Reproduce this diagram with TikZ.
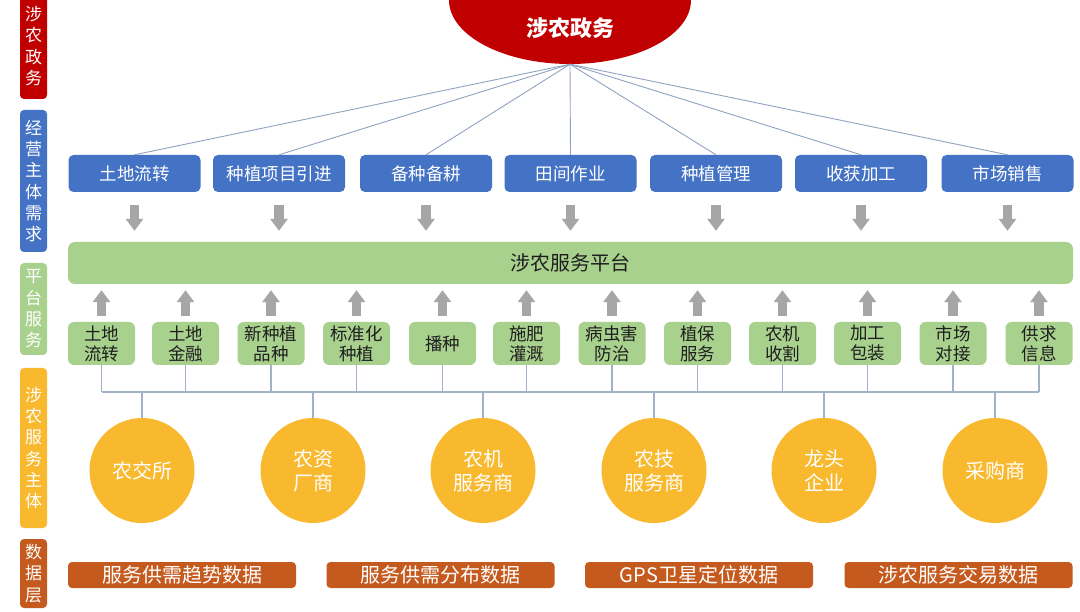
\documentclass[tikz,border=0pt]{standalone}
\usepackage{fontspec}
\setmainfont{Noto Sans CJK SC}
\usetikzlibrary{arrows.meta,shapes.geometric}
\definecolor{gred}{HTML}{C00000}
\definecolor{gblue}{HTML}{4472C4}
\definecolor{ggreen}{HTML}{A9D18E}
\definecolor{ggold}{HTML}{F9B92E}
\definecolor{gbrown}{HTML}{C55A1E}
\definecolor{ggray}{HTML}{A6A6A6}
\definecolor{gline}{HTML}{8FA3C0}
\definecolor{gtext}{HTML}{1E1E1E}
\tikzset{
  side/.style={rounded corners=4pt, minimum width=27pt, inner sep=0pt, text=white, align=center, font=\fontsize{17}{21.3}\selectfont},
  need/.style={fill=gblue, rounded corners=5pt, minimum width=132pt, minimum height=37pt, inner sep=0pt, text=white, font=\fontsize{17.5}{20}\selectfont},
  serv/.style={fill=ggreen, rounded corners=6pt, minimum width=67pt, minimum height=43pt, inner sep=0pt, text=gtext, align=center, font=\fontsize{17.5}{20}\selectfont},
  body/.style={circle, fill=ggold, minimum size=105pt, inner sep=0pt, text=white, align=center, font=\fontsize{20}{24}\selectfont},
  data/.style={fill=gbrown, rounded corners=4pt, minimum width=228pt, minimum height=26pt, inner sep=0pt, text=white, font=\fontsize{20}{22}\selectfont},
  link/.style={draw=gline, line width=0.9pt},
  bus/.style={draw=gline!85, line width=1.3pt},
  downarr/.style={draw=ggray, line width=9.5pt, -{Triangle[width=17pt,length=12pt]}},
}
\begin{document}
\begin{tikzpicture}[x=1pt,y=-1pt]
\useasboundingbox[fill=white] (0,0) rectangle (1080,612);
% side labels
\node[side, fill=gred, minimum height=106pt] (s1) at (33.5,46) {涉\\农\\政\\务};
\node[side, fill=gblue, minimum height=142pt] (s2) at (33.5,181) {经\\营\\主\\体\\需\\求};
\node[side, fill=ggreen, minimum height=92pt] (s3) at (33.5,309) {平\\台\\服\\务};
\node[side, fill=ggold, minimum height=160pt] (s4) at (33.5,448) {涉\\农\\服\\务\\主\\体};
\node[side, fill=gbrown, minimum height=69pt] (s5) at (33.5,573.5) {数\\据\\层};
% top ellipse
\node[ellipse, fill=gred, minimum width=242pt, minimum height=128pt, inner sep=0pt] (gov) at (570,0) {};
\node[text=white, font=\fontsize{22}{24}\selectfont\bfseries] (govtext) at (570,28) {涉农政务};
% need boxes
\node[need] (n1) at (134.5,173.5) {土地流转};
\node[need] (n2) at (279,173.5) {种植项目引进};
\node[need] (n3) at (426,173.5) {备种备耕};
\node[need] (n4) at (570.5,173.5) {田间作业};
\node[need] (n5) at (716,173.5) {种植管理};
\node[need] (n6) at (861,173.5) {收获加工};
\node[need] (n7) at (1007.5,173.5) {市场销售};
\foreach \i in {1,...,7}{\draw[link] (gov.south) -- (n\i.north);}
% platform
\node[fill=ggreen, rounded corners=7pt, minimum width=1005pt, minimum height=42pt, inner sep=0pt, text=gtext, font=\fontsize{20}{22}\selectfont] (plat) at (570.5,263) {涉农服务平台};
\foreach \i in {1,...,7}{\draw[downarr] ([yshift=-13pt]n\i.south) -- ([yshift=11pt]n\i.south |- plat.north);}
% service boxes
\node[serv] (g1) at (101.5,343.5) {土地\\流转};
\node[serv] (g2) at (185.5,343.5) {土地\\金融};
\node[serv] (g3) at (271,343.5) {新种植\\品种};
\node[serv] (g4) at (356.5,343.5) {标准化\\种植};
\node[serv] (g5) at (442.5,343.5) {播种};
\node[serv] (g6) at (526.5,343.5) {施肥\\灌溉};
\node[serv] (g7) at (612,343.5) {病虫害\\防治};
\node[serv] (g8) at (697.5,343.5) {植保\\服务};
\node[serv] (g9) at (782.5,343.5) {农机\\收割};
\node[serv] (g10) at (867.5,343.5) {加工\\包装};
\node[serv] (g11) at (953,343.5) {市场\\对接};
\node[serv] (g12) at (1039,343.5) {供求\\信息};
\foreach \i in {1,...,12}{\draw[downarr] ([yshift=6pt]g\i.north) -- ([yshift=-6pt]g\i.north |- plat.south);}
% bus
\coordinate (bus) at (0,392);
\foreach \i in {1,...,12}{\draw[bus] (g\i.south) -- (g\i.south |- bus);}
\draw[bus] (g1.south |- bus) -- (g12.south |- bus);
% bodies
\node[body] (c1) at (142,470.5) {农交所};
\node[body] (c2) at (313,470.5) {农资\\厂商};
\node[body] (c3) at (483,470.5) {农机\\服务商};
\node[body] (c4) at (654,470.5) {农技\\服务商};
\node[body] (c5) at (824,470.5) {龙头\\企业};
\node[body] (c6) at (995,470.5) {采购商};
\foreach \i in {1,...,6}{\draw[bus] (c\i.north) -- (c\i.north |- bus);}
% data
\node[data] (d1) at (182,575) {服务供需趋势数据};
\node[data] (d2) at (440.5,575) {服务供需分布数据};
\node[data] (d3) at (699,575) {GPS卫星定位数据};
\node[data] (d4) at (958.5,575) {涉农服务交易数据};
\end{tikzpicture}
\end{document}
